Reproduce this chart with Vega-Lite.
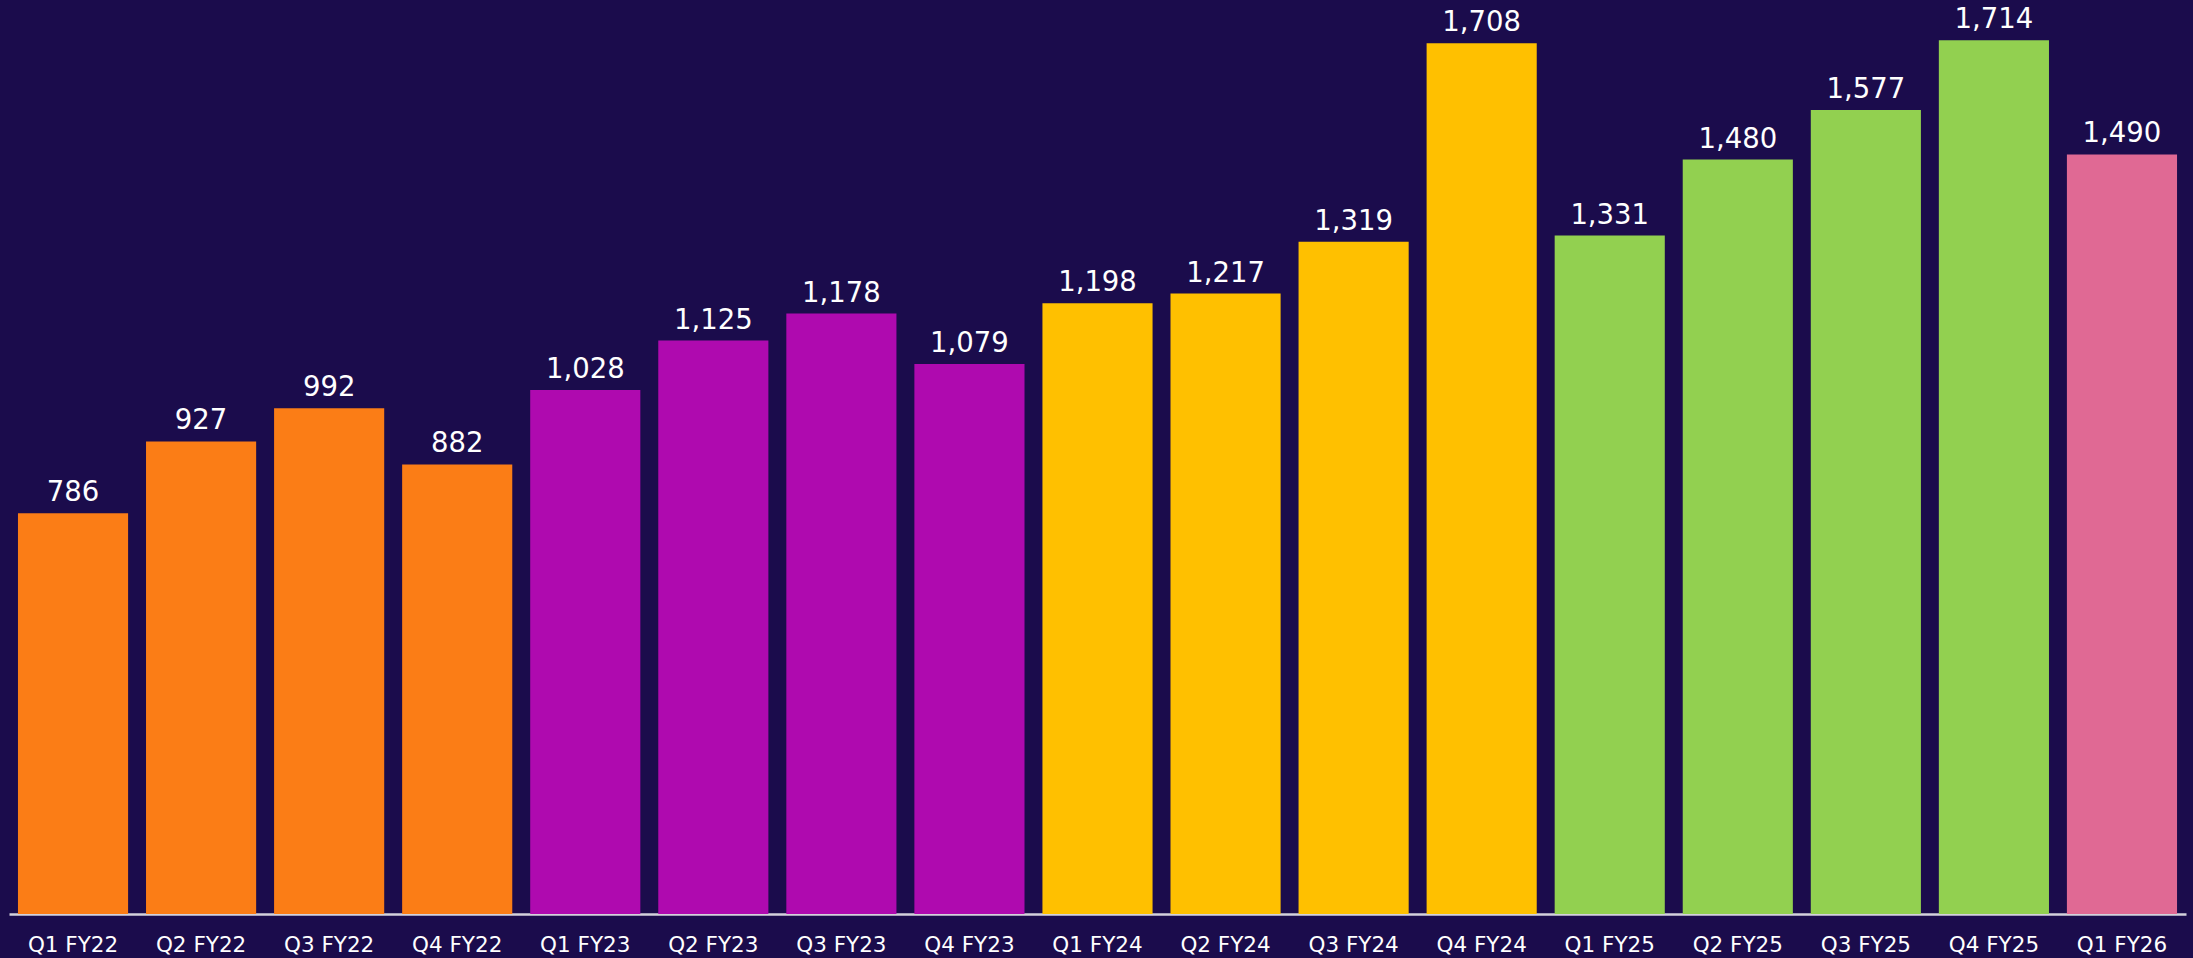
{
  "$schema": "https://vega.github.io/schema/vega-lite/v6.json",
  "width": 2177,
  "height": 914,
  "autosize": {"type": "none"},
  "padding": {"left": 9, "top": 0, "right": 7, "bottom": 44},
  "background": "#1b0c4c",
  "config": {"view": {"stroke": null}},
  "data": {
    "values": [
      {"quarter": "Q1 FY22", "fy": "FY22", "value": 786},
      {"quarter": "Q2 FY22", "fy": "FY22", "value": 927},
      {"quarter": "Q3 FY22", "fy": "FY22", "value": 992},
      {"quarter": "Q4 FY22", "fy": "FY22", "value": 882},
      {"quarter": "Q1 FY23", "fy": "FY23", "value": 1028},
      {"quarter": "Q2 FY23", "fy": "FY23", "value": 1125},
      {"quarter": "Q3 FY23", "fy": "FY23", "value": 1178},
      {"quarter": "Q4 FY23", "fy": "FY23", "value": 1079},
      {"quarter": "Q1 FY24", "fy": "FY24", "value": 1198},
      {"quarter": "Q2 FY24", "fy": "FY24", "value": 1217},
      {"quarter": "Q3 FY24", "fy": "FY24", "value": 1319},
      {"quarter": "Q4 FY24", "fy": "FY24", "value": 1708},
      {"quarter": "Q1 FY25", "fy": "FY25", "value": 1331},
      {"quarter": "Q2 FY25", "fy": "FY25", "value": 1480},
      {"quarter": "Q3 FY25", "fy": "FY25", "value": 1577},
      {"quarter": "Q4 FY25", "fy": "FY25", "value": 1714},
      {"quarter": "Q1 FY26", "fy": "FY26", "value": 1490}
    ]
  },
  "encoding": {
    "x": {
      "field": "quarter",
      "type": "nominal",
      "sort": null,
      "scale": {"paddingInner": 0.14, "paddingOuter": 0.07},
      "axis": {
        "title": null,
        "labelAngle": 0,
        "ticks": false,
        "tickSize": 0,
        "labelPadding": 37,
        "labelBaseline": "alphabetic",
        "labelFont": "DejaVu Sans",
        "labelFontSize": 21.5,
        "labelColor": "#ffffff",
        "domainColor": "#d4d2dc",
        "domainWidth": 2.5,
        "grid": false
      }
    },
    "y": {
      "field": "value",
      "type": "quantitative",
      "scale": {"domain": [0, 1793], "nice": false, "zero": true},
      "axis": null
    }
  },
  "layer": [
    {
      "mark": {"type": "bar"},
      "encoding": {
        "color": {
          "field": "fy",
          "type": "nominal",
          "scale": {
            "domain": ["FY22", "FY23", "FY24", "FY25", "FY26"],
            "range": ["#fb7d16", "#af0aaf", "#ffc000", "#92d050", "#e06994"]
          },
          "legend": null
        }
      }
    },
    {
      "mark": {
        "type": "text",
        "baseline": "alphabetic",
        "align": "center",
        "dy": -12,
        "font": "DejaVu Sans",
        "fontSize": 27.5,
        "color": "#ffffff"
      },
      "encoding": {
        "text": {"field": "value", "type": "quantitative", "format": ","}
      }
    }
  ]
}
